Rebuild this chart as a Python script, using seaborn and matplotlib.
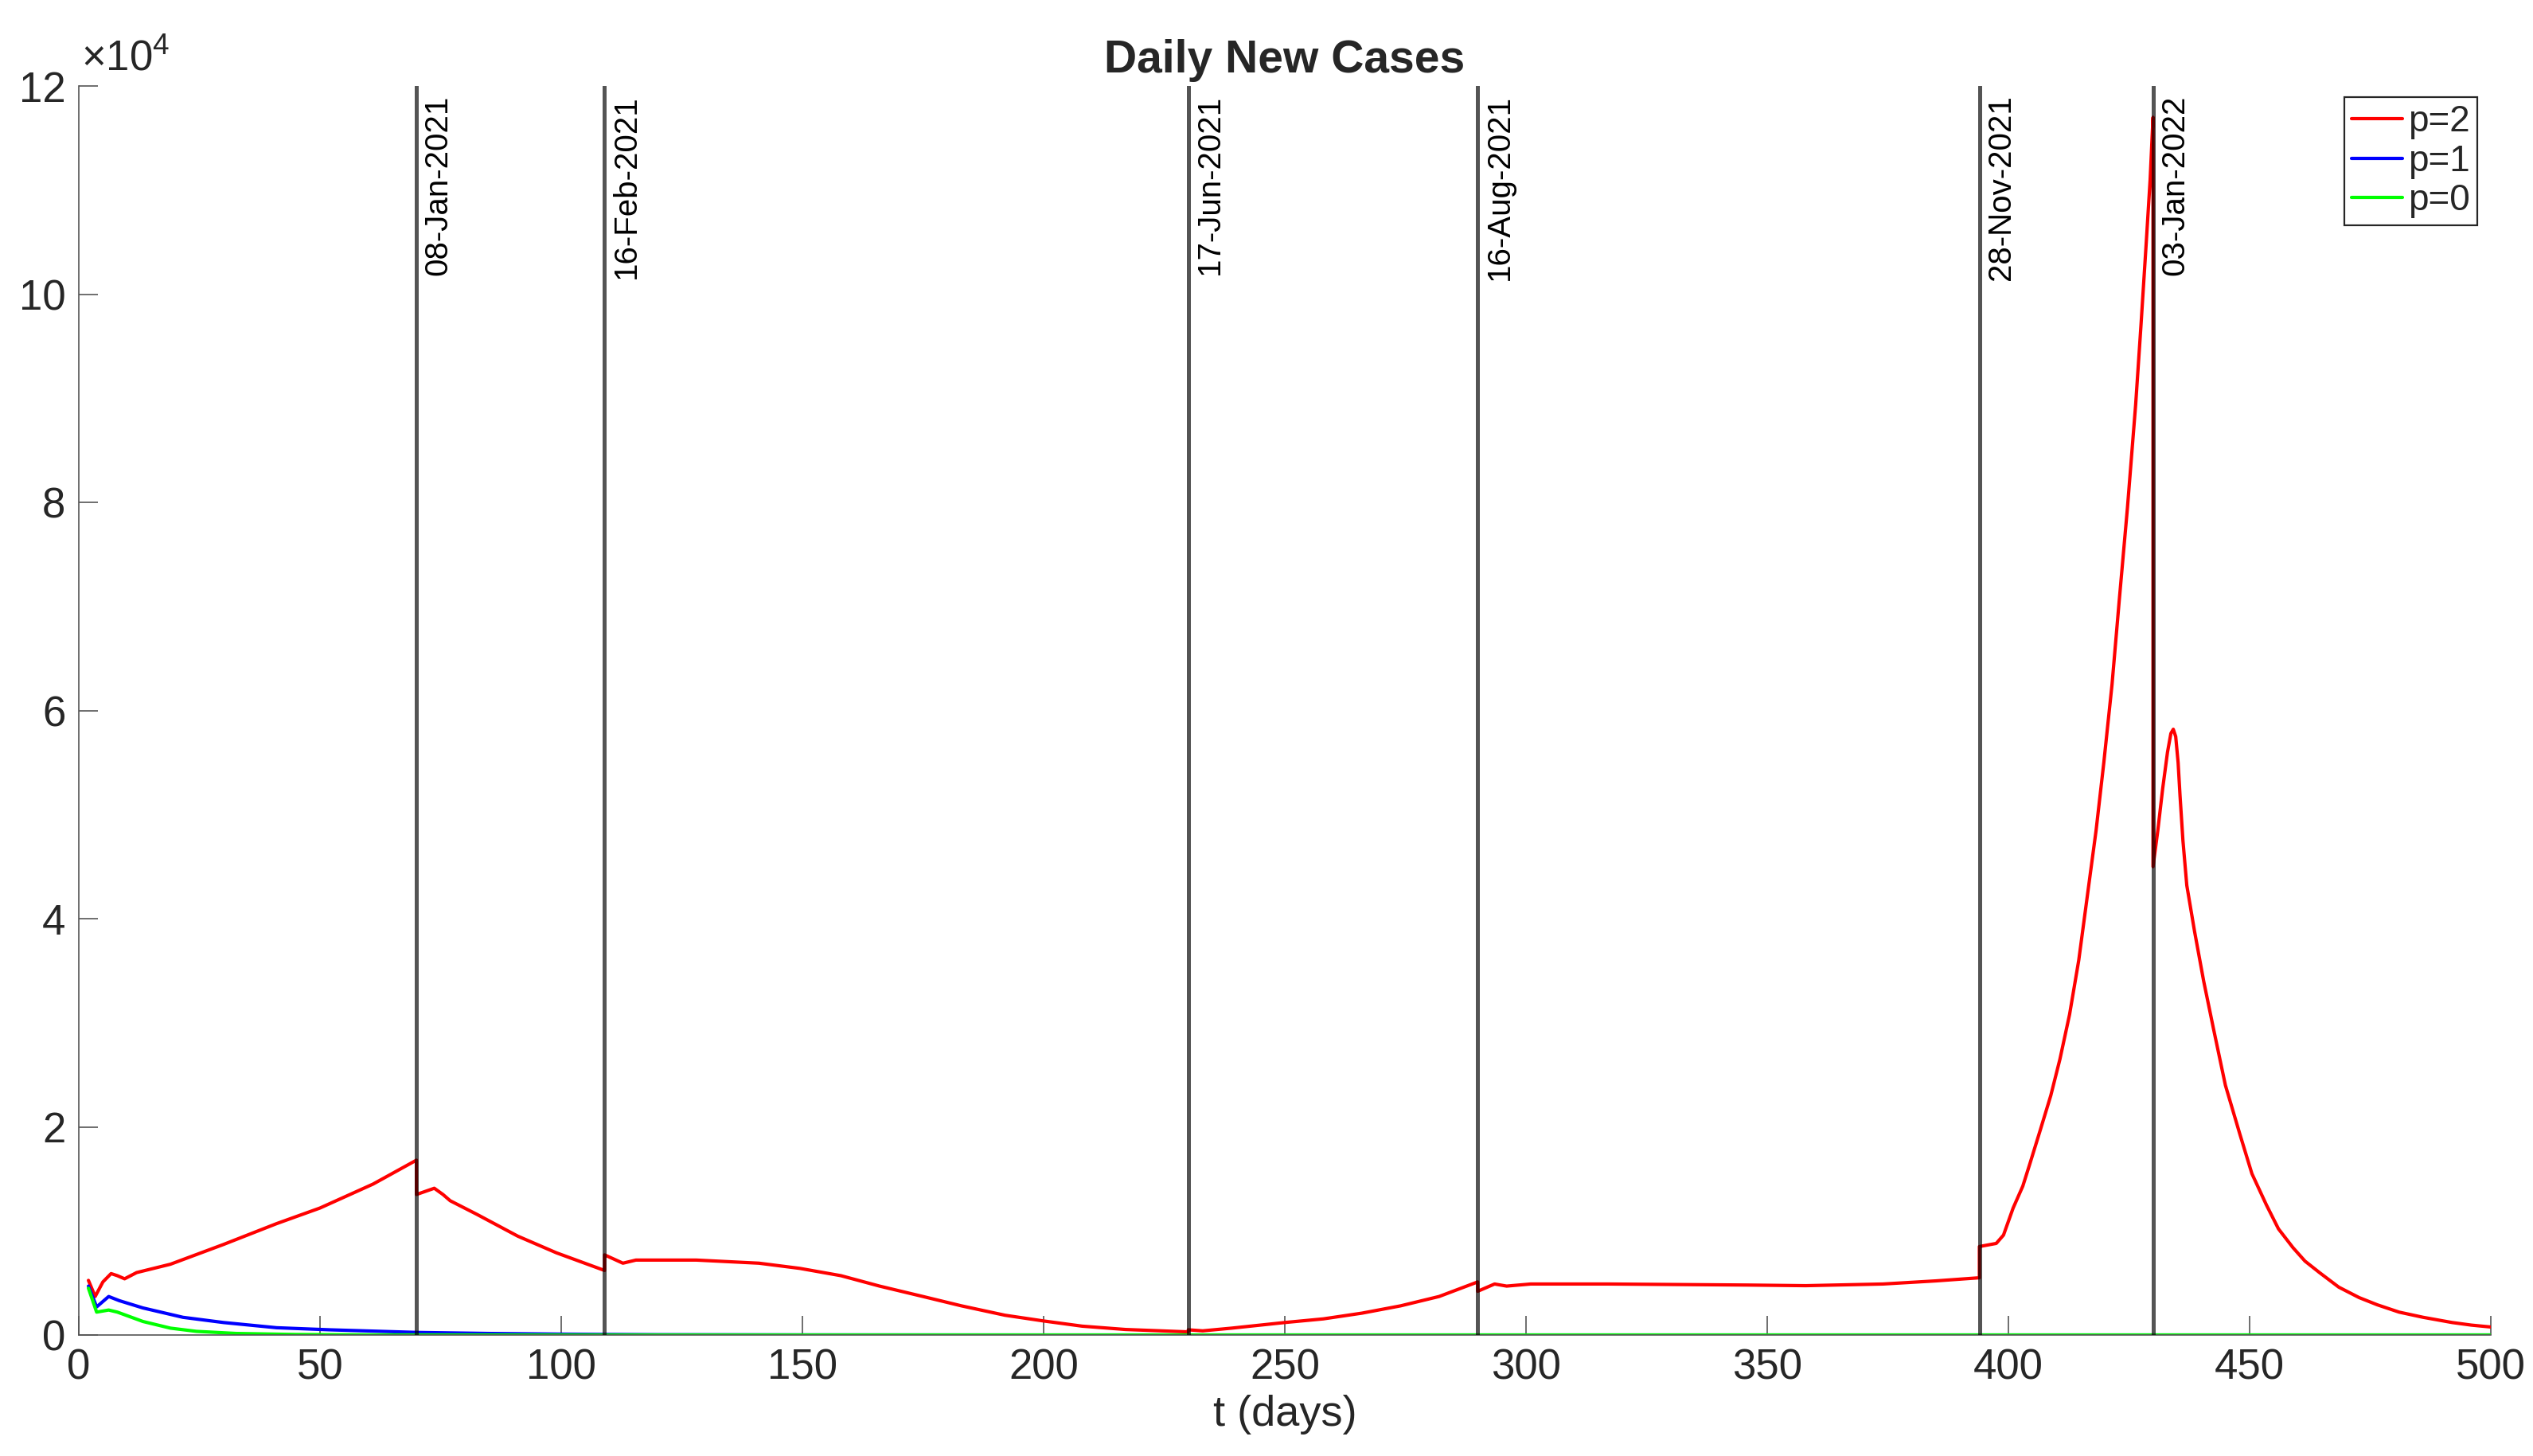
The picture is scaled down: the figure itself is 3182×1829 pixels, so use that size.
import matplotlib
matplotlib.use("Agg")
import matplotlib.pyplot as plt
import matplotlib.transforms as mtransforms
from matplotlib.ticker import FuncFormatter, MultipleLocator
import seaborn as sns
import pandas as pd

# Daily new cases (values in units of 1e4 cases)
t_p2 = [2, 3.4, 5, 6.7, 8, 9.5, 12, 19, 30, 41, 50, 61, 70,
        70, 73.7, 75.5, 77, 82.5, 91, 99, 109,
        109, 112.8, 115.5, 128, 141, 149.5, 158, 166, 175, 183, 192, 200, 208, 217, 230,
        230, 233, 239, 250, 258, 266, 274, 282, 290,
        290, 293.5, 296, 301, 317, 346, 358, 374, 385, 394,
        394, 397.5, 399, 401, 403, 404.5, 406.5, 408.8, 410.7, 412.7, 414.6, 416.5, 418.2,
        419.8, 421.5, 423, 424.7, 426.4, 427.5, 428.6, 429.4, 430,
        430, 431, 432, 433, 433.7, 434.2, 434.7, 435.2, 435.6, 436.2, 437, 438.6, 440.5,
        442.5, 445, 448, 450.5, 453.5, 456, 459, 461.5, 464.5, 468.5, 472.7, 476.5,
        481, 486, 492, 496, 500]
cases_p2 = [0.525, 0.37, 0.51, 0.59, 0.57, 0.54, 0.60, 0.68, 0.87, 1.07, 1.22, 1.45, 1.68,
            1.35, 1.41, 1.35, 1.29, 1.16, 0.95, 0.79, 0.62,
            0.77, 0.69, 0.72, 0.72, 0.69, 0.64, 0.57, 0.47, 0.37, 0.28, 0.19, 0.135, 0.085, 0.053, 0.03,
            0.05, 0.04, 0.066, 0.12, 0.155, 0.21, 0.28, 0.37, 0.51,
            0.42, 0.49, 0.47, 0.49, 0.49, 0.48, 0.474, 0.49, 0.52, 0.55,
            0.85, 0.88, 0.96, 1.22, 1.43, 1.65, 1.95, 2.3, 2.65, 3.08, 3.6, 4.26, 4.85,
            5.5, 6.25, 7.06, 7.95, 8.94, 9.7, 10.5, 11.1, 11.7,
            4.5, 4.85, 5.25, 5.6, 5.78, 5.82, 5.75, 5.5, 5.18, 4.75, 4.32, 3.88, 3.4,
            2.95, 2.4, 1.93, 1.55, 1.25, 1.02, 0.84, 0.71, 0.60, 0.46, 0.36, 0.29,
            0.22, 0.17, 0.12, 0.095, 0.077]

t_p1 = [2, 3.7, 6.2, 8.4, 13.3, 21.6, 30, 41, 52, 70, 85, 101, 120, 150, 200, 300, 400, 500]
cases_p1 = [0.47, 0.27, 0.37, 0.33, 0.26, 0.17, 0.12, 0.07, 0.05, 0.025, 0.015, 0.008,
            0.003, 0.001, 0, 0, 0, 0]

t_p0 = [2, 3.7, 6.2, 8, 13.3, 19, 24.4, 32.6, 45, 60, 100, 500]
cases_p0 = [0.45, 0.22, 0.24, 0.22, 0.13, 0.066, 0.035, 0.015, 0.005, 0.001, 0, 0]

series_names = ["p=2", "p=1", "p=0"]
series_colors = ["#ff0000", "#0000ff", "#00ff00"]

event_days = [70, 109, 230, 290, 394, 430]
event_labels = ["08-Jan-2021", "16-Feb-2021", "17-Jun-2021",
                "16-Aug-2021", "28-Nov-2021", "03-Jan-2022"]

df = pd.concat([
    pd.DataFrame({"t": t_p2, "cases": [c * 1e4 for c in cases_p2], "p": "p=2"}),
    pd.DataFrame({"t": t_p1, "cases": [c * 1e4 for c in cases_p1], "p": "p=1"}),
    pd.DataFrame({"t": t_p0, "cases": [c * 1e4 for c in cases_p0], "p": "p=0"}),
], ignore_index=True)

sns.set_theme(style="white")
plt.rcParams["font.family"] = ["Liberation Sans", "DejaVu Sans"]
plt.rcParams["mathtext.fontset"] = "custom"
plt.rcParams["mathtext.rm"] = "Liberation Sans"

fig = plt.figure(figsize=(15.91, 9.145), dpi=200)
ax = fig.add_axes([0.0311, 0.0831, 0.9522, 0.8578])

sns.lineplot(data=df, x="t", y="cases", hue="p", hue_order=series_names,
             palette=series_colors, estimator=None, sort=False, lw=1.5, ax=ax)

# event markers
trans = mtransforms.offset_copy(ax.get_xaxis_transform(), fig=fig, x=3, y=-4, units="points")
for d, lab in zip(event_days, event_labels):
    ax.axvline(d, color="black", alpha=0.67, lw=1.8, zorder=3)
    ax.text(d, 1, lab, rotation=90, ha="left", va="top", fontsize=14.5,
            color="black", transform=trans)

ax.set_xlim(0, 500)
ax.set_ylim(0, 12e4)
ax.xaxis.set_major_locator(MultipleLocator(50))
ax.yaxis.set_major_locator(MultipleLocator(2e4))
ax.yaxis.set_major_formatter(FuncFormatter(lambda v, _: f"{v / 1e4:g}"))

for side in ["top", "right"]:
    ax.spines[side].set_visible(False)
for side in ["left", "bottom"]:
    ax.spines[side].set_color("#555555")
    ax.spines[side].set_linewidth(0.6)
ax.tick_params(direction="in", length=8.5, width=0.6, color="#555555",
               labelsize=19, labelcolor="#262626", pad=6,
               bottom=True, left=True)

ax.text(0, 1, r"$\times10^{4}$", transform=mtransforms.offset_copy(
    ax.transAxes, fig=fig, x=1, y=3, units="points"),
    ha="left", va="bottom", fontsize=19, color="#262626")

ax.set_xlabel("t (days)", fontsize=19.5, color="#262626", labelpad=3)
ax.set_ylabel("")
ax.set_title("Daily New Cases", fontsize=20.5, fontweight="bold", pad=6)

ax.legend(loc="upper right", bbox_to_anchor=(0.978, 0.9333), bbox_transform=fig.transFigure,
          borderaxespad=0, fontsize=16.5, frameon=True, fancybox=False,
          edgecolor="#262626", framealpha=1, handlelength=1.4, handletextpad=0.15,
          labelspacing=0.12, borderpad=0.2)
ax.get_legend().get_frame().set_linewidth(0.8)

fig.savefig("out.png", dpi=200)
